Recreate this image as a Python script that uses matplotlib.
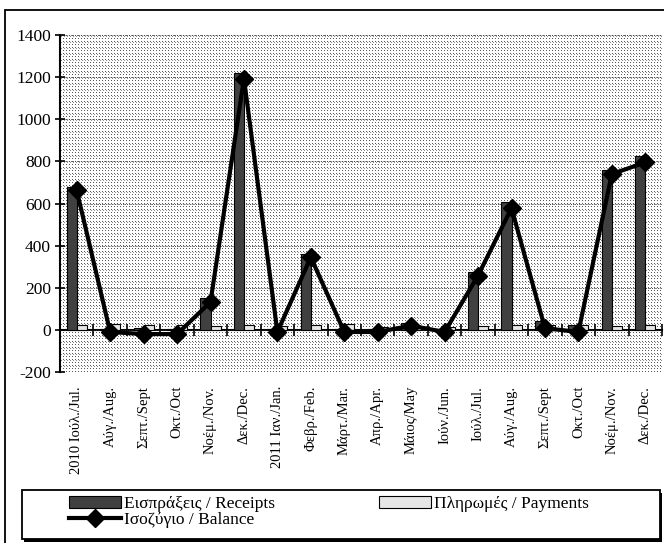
import matplotlib
matplotlib.use("Agg")
import matplotlib.pyplot as plt
import numpy as np
from matplotlib.patches import Rectangle

categories = ["2010 Ιούλ./Jul.", "Αύγ./Aug.", "Σεπτ./Sept", "Οκτ./Oct", "Νοέμ./Nov.", "Δεκ./Dec.",
              "2011 Ιαν./Jan.", "Φεβρ./Feb.", "Μάρτ./Mar.", "Απρ./Apr.", "Μάιος/May", "Ιούν./Jun.",
              "Ιούλ./Jul.", "Αύγ./Aug.", "Σεπτ./Sept", "Οκτ./Oct", "Νοέμ./Nov.", "Δεκ./Dec."]
receipts = [680, 5, 10, 5, 150, 1220, 2, 360, 5, 5, 35, 5, 277, 608, 40, 25, 758, 825]
payments = [22, 28, 25, 25, 20, 25, 20, 22, 28, 15, 20, 15, 20, 25, 24, 25, 20, 25]
balance = [662, -10, -20, -20, 132, 1193, -10, 345, -10, -10, 20, -10, 258, 578, 8, -10, 740, 795]
yticks = [-200, 0, 200, 400, 600, 800, 1000, 1200, 1400]

plt.rcParams['font.family'] = ['Liberation Serif', 'DejaVu Serif']

W, H = 664, 543
fig = plt.figure(figsize=(W / 100, H / 100), dpi=100)
ax_l, ax_r, ax_t, ax_b = 60, 662, 35, 372
ax = fig.add_axes([ax_l / W, 1 - ax_b / H, (ax_r - ax_l) / W, (ax_b - ax_t) / H])

# outer frame (right and bottom run off the page)
fig.patches.append(Rectangle((5 / W, -0.05), 1.0, 1 - 10 / H + 0.05,
                             transform=fig.transFigure, fill=False, edgecolor='black', lw=1.3))

# dotted background texture
ph, pw = ax_b - ax_t, ax_r - ax_l
tex = np.ones((ph, pw))
tex[::3, ::3] = 0.35
tex[1::6, 1::3] = 0.55
ax.imshow(tex, cmap='gray', vmin=0, vmax=1, extent=(0, 1, 0, 1), transform=ax.transAxes,
          aspect='auto', interpolation='nearest', zorder=0)

x = np.arange(len(categories))
bw = 0.3
ax.bar(x - bw / 2, receipts, bw, color='#404040', edgecolor='black', lw=0.8, zorder=3,
       label='Εισπράξεις / Receipts')
ax.bar(x + bw / 2, payments, bw, color='#e6e6e6', edgecolor='black', lw=0.8, zorder=3,
       label='Πληρωμές / Payments')
ax.plot(x, balance, color='black', lw=3, marker='D', markersize=9, zorder=5,
        label='Ισοζύγιο / Balance')

ax.set_xlim(-0.5, len(categories) - 0.5)
ax.set_ylim(-200, 1400)
ax.set_yticks(yticks)
ax.set_yticklabels([str(v) for v in yticks], fontsize=12.5)
ax.yaxis.grid(True, linestyle=(0, (1, 1.5)), color='#333333', lw=0.6, zorder=1)
ax.tick_params(axis='y', direction='inout', length=7, width=1.2, pad=3)

ax.set_xticks(x)
ax.set_xticklabels(categories, rotation=90, fontsize=10.5)
ax.tick_params(axis='x', length=0, pad=10)

for s in ['top', 'right', 'bottom']:
    ax.spines[s].set_visible(False)
ax.spines['left'].set_linewidth(1.5)
ax.spines['left'].set_zorder(6)

sec = ax.secondary_xaxis(200 / 1600)
sec.set_xticks(np.arange(len(categories) + 1) - 0.5)
sec.set_xticklabels([])
sec.tick_params(direction='inout', length=8, width=1.2)
sec.spines['bottom'].set_linewidth(1.5)
for s in ['top', 'left', 'right']:
    sec.spines[s].set_visible(False)

# legend box with shadow
lx0, lx1, ly0, ly1 = 22, 660, 490, 539
fig.patches.append(Rectangle(((lx0 + 2) / W, 1 - (ly1 + 3) / H), (lx1 - lx0) / W, (ly1 - ly0) / H,
                             transform=fig.transFigure, facecolor='black', edgecolor='black', lw=0))
fig.patches.append(Rectangle((lx0 / W, 1 - ly1 / H), (lx1 - lx0) / W, (ly1 - ly0) / H,
                             transform=fig.transFigure, facecolor='white', edgecolor='black', lw=1.3))

h, l = ax.get_legend_handles_labels()
lab = {lb: hd for hd, lb in zip(h, l)}
order = ['Εισπράξεις / Receipts', 'Ισοζύγιο / Balance', 'Πληρωμές / Payments']
leg = fig.legend([lab[k] for k in order], order, loc='upper left',
                 bbox_to_anchor=(69 / W, 1 - 496 / H),
                 ncol=2, fontsize=12.5, frameon=False, borderpad=0, labelspacing=0.0,
                 handlelength=3.0, handletextpad=0.15, borderaxespad=0, columnspacing=6.0)

fig.savefig('out.png', dpi=100)
